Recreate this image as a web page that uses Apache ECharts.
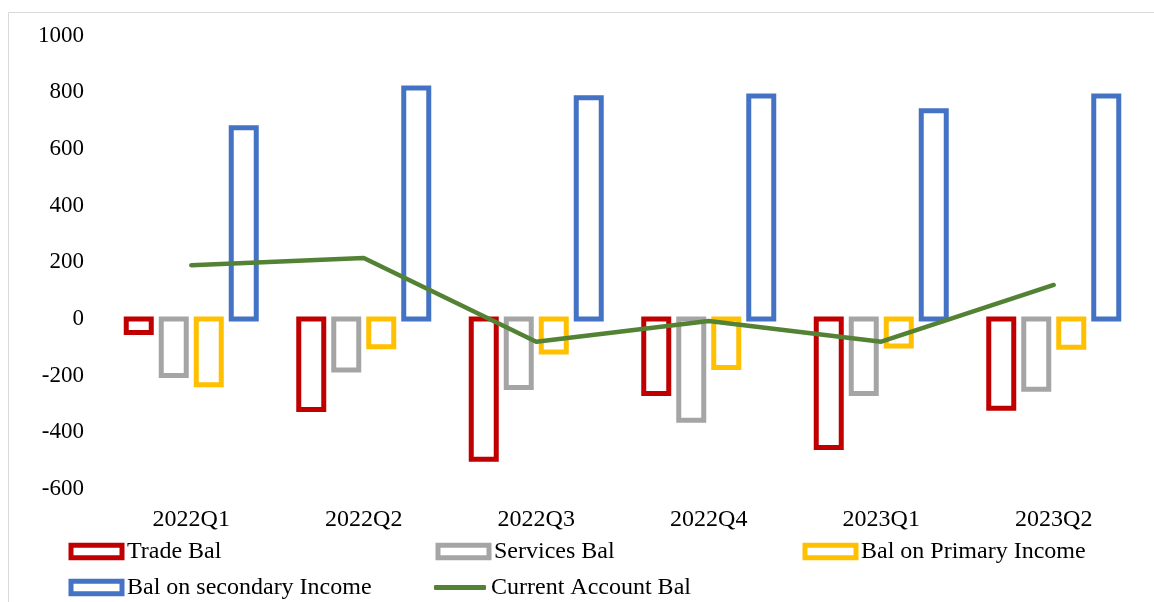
<!DOCTYPE html>
<html>
<head>
<meta charset="utf-8">
<title>Current Account Components</title>
<script src="https://cdn.jsdelivr.net/npm/echarts@6/dist/echarts.min.js"></script>
<style>
  html, body { margin: 0; padding: 0; background: #fff; }
  #chart { width: 1154px; height: 602px; }
</style>
</head>
<body>
<div id="chart"></div>
<script>
// Quarterly balance of payments components
const quarters = ['2022Q1', '2022Q2', '2022Q3', '2022Q4', '2023Q1', '2023Q2'];
const tradeBal = [-48, -319, -495, -263, -453, -315];
const servicesBal = [-199, -180, -242, -357, -263, -248];
const primaryIncomeBal = [-232, -98, -116, -171, -95, -100];
const secondaryIncomeBal = [675, 815, 780, 787, 735, 787];
const currentAccountBal = [190, 215, -80, -7, -80, 120];

const FONT = "'Liberation Serif', 'Times New Roman', serif";
const LINE_GREEN = '#548235';
const BAR_W = 25;      // bar body width (outline is centred on its edges)
const BAR_STEP = 35;   // distance between neighbouring bars in a group
const BAR_COUNT = 4;
const OUTLINE = 5;

// Hollow bar drawn with its outline centred on the value and on the zero line
function hollowBar(name, values, color, slot) {
  return {
    name: name,
    type: 'custom',
    data: values.map(function (v, i) { return [i, v]; }),
    encode: { x: 0, y: 1 },
    itemStyle: { color: '#ffffff', borderColor: color, borderWidth: OUTLINE },
    renderItem: function (params, api) {
      const idx = api.value(0);
      const end = api.coord([idx, api.value(1)]);
      const base = api.coord([idx, 0]);
      const offset = (slot - (BAR_COUNT - 1) / 2) * BAR_STEP;
      return {
        type: 'rect',
        shape: {
          x: base[0] + offset - BAR_W / 2,
          y: Math.min(end[1], base[1]),
          width: BAR_W,
          height: Math.abs(base[1] - end[1])
        },
        style: { fill: '#ffffff', stroke: color, lineWidth: OUTLINE }
      };
    }
  };
}

// One legend block per entry so each sits at its own spot
function legendItem(name, left, top, isLine) {
  return {
    data: [{ name: name, icon: isLine ? 'roundRect' : 'rect' }],
    left: left,
    top: top,
    padding: 0,
    itemWidth: isLine ? 52 : 51,
    itemHeight: isLine ? 5 : 12.5,
    selectedMode: false,
    textStyle: { fontFamily: FONT, fontSize: 24, color: '#000' },
    itemStyle: isLine ? { color: LINE_GREEN, borderWidth: 0 } : { color: '#ffffff', borderWidth: OUTLINE }
  };
}

const chart = echarts.init(document.getElementById('chart'), null, { renderer: 'canvas' });

chart.setOption({
  backgroundColor: '#ffffff',
  animation: false,
  graphic: [{
    type: 'rect',
    shape: { x: 8.5, y: 12.5, width: 1200, height: 700 },
    style: { fill: 'none', stroke: '#D9D9D9', lineWidth: 1 },
    silent: true,
    z: -10
  }],
  grid: { left: 105, top: 35.5, width: 1035, height: 453.6, containLabel: false },
  legend: [
    legendItem('Trade Bal', 68.5, 539.5, false),
    legendItem('Services Bal', 435.5, 539.5, false),
    legendItem('Bal on Primary Income', 802.5, 539.5, false),
    legendItem('Bal on secondary Income', 68.5, 575.5, false),
    legendItem('Current Account Bal', 434, 575.5, true)
  ],
  xAxis: {
    type: 'category',
    data: quarters,
    axisLine: { show: false, onZero: false },
    axisTick: { show: false },
    splitLine: { show: false },
    axisLabel: { fontFamily: FONT, fontSize: 24, color: '#000', margin: 19 }
  },
  yAxis: {
    type: 'value',
    min: -600,
    max: 1000,
    interval: 200,
    axisLine: { show: false },
    axisTick: { show: false },
    splitLine: { show: false },
    axisLabel: {
      fontFamily: FONT, fontSize: 23, color: '#000', margin: 21,
      formatter: function (v) { return String(v); }
    }
  },
  series: [
    hollowBar('Trade Bal', tradeBal, '#C00000', 0),
    hollowBar('Services Bal', servicesBal, '#A5A5A5', 1),
    hollowBar('Bal on Primary Income', primaryIncomeBal, '#FFC000', 2),
    hollowBar('Bal on secondary Income', secondaryIncomeBal, '#4472C4', 3),
    {
      name: 'Current Account Bal',
      type: 'line',
      data: currentAccountBal,
      symbol: 'none',
      z: 5,
      itemStyle: { color: LINE_GREEN },
      lineStyle: { color: LINE_GREEN, width: 4.5, cap: 'round', join: 'round' }
    }
  ]
});
</script>
</body>
</html>
